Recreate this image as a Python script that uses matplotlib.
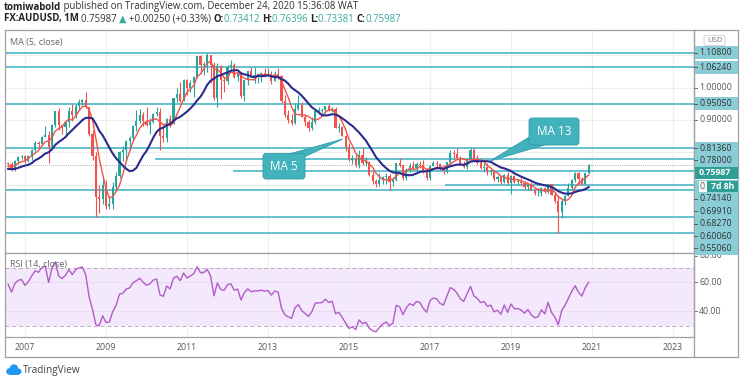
import matplotlib
matplotlib.use("Agg")
import matplotlib.pyplot as plt
import matplotlib.patches as mpatches
import numpy as np
import pandas as pd

plt.rcParams['font.family'] = ['Open Sans', 'DejaVu Sans']

# monthly closes before the first visible bar (Jan 2004 - Jul 2006), only used to seed MA / RSI
warmup_closes = [0.7680, 0.7840, 0.7640, 0.7190, 0.7060, 0.6950, 0.7030, 0.7140, 0.7230, 0.7470, 0.7840, 0.7810,
                 0.7720, 0.7880, 0.7720, 0.7790, 0.7590, 0.7620, 0.7610, 0.7560, 0.7630, 0.7440, 0.7390, 0.7330,
                 0.7560, 0.7420, 0.7160, 0.7600, 0.7560, 0.7420, 0.7660]

# visible bars, Aug 2006 - Dec 2020 (AUDUSD, 1M)
closes = [0.7650, 0.7455, 0.7740, 0.7860, 0.7885,
          0.7750, 0.7875, 0.8085, 0.8295, 0.8265, 0.8485, 0.8530, 0.8180, 0.8860, 0.9270, 0.8845, 0.8770,
          0.8950, 0.9290, 0.9140, 0.9445, 0.9560, 0.9620, 0.9395, 0.8580, 0.7900, 0.6640, 0.6550, 0.7010,
          0.6360, 0.6395, 0.6920, 0.7265, 0.8000, 0.8060, 0.8360, 0.8440, 0.8815, 0.8980, 0.9165, 0.8980,
          0.8835, 0.8930, 0.9170, 0.9240, 0.8510, 0.8435, 0.9040, 0.8895, 0.9665, 0.9800, 0.9600, 1.0225,
          0.9990, 1.0150, 1.0340, 1.0960, 1.0700, 1.0735, 1.0990, 1.0710, 0.9685, 1.0665, 1.0245, 1.0200,
          1.0630, 1.0705, 1.0335, 1.0415, 0.9730, 1.0230, 1.0505, 1.0330, 1.0385, 1.0385, 1.0435, 1.0385,
          1.0420, 1.0215, 1.0410, 1.0370, 0.9575, 0.9140, 0.8990, 0.8900, 0.9325, 0.9460, 0.9105, 0.8925,
          0.8745, 0.8925, 0.9275, 0.9285, 0.9300, 0.9430, 0.9290, 0.9335, 0.8745, 0.8795, 0.8510, 0.8160,
          0.7770, 0.7815, 0.7615, 0.7910, 0.7665, 0.7705, 0.7305, 0.7110, 0.7015, 0.7135, 0.7230, 0.7285,
          0.7075, 0.7135, 0.7660, 0.7605, 0.7225, 0.7455, 0.7595, 0.7515, 0.7650, 0.7610, 0.7385, 0.7215,
          0.7580, 0.7670, 0.7640, 0.7475, 0.7420, 0.7690, 0.7995, 0.7945, 0.7830, 0.7650, 0.7565, 0.7805,
          0.8060, 0.7765, 0.7680, 0.7530, 0.7565, 0.7400, 0.7430, 0.7190, 0.7230, 0.7085, 0.7310, 0.7045,
          0.7270, 0.7095, 0.7100, 0.7050, 0.6940, 0.7020, 0.6840, 0.6735, 0.6750, 0.6895, 0.6765, 0.7020,
          0.6690, 0.6510, 0.6150, 0.6515, 0.6670, 0.6900, 0.7145, 0.7375, 0.7165, 0.7030, 0.7355, 0.75987]

highs = [0.7700, 0.7690, 0.7760, 0.7890, 0.7930,
         0.7920, 0.7920, 0.8100, 0.8350, 0.8350, 0.8500, 0.8800, 0.8660, 0.8870, 0.9280, 0.9380, 0.8860,
         0.8960, 0.9390, 0.9500, 0.9500, 0.9650, 0.9660, 0.9850, 0.9410, 0.8680, 0.8000, 0.7010, 0.7180,
         0.7140, 0.6670, 0.7080, 0.7400, 0.8040, 0.8190, 0.8380, 0.8510, 0.8830, 0.9320, 0.9330, 0.9240,
         0.9410, 0.9070, 0.9210, 0.9390, 0.9380, 0.8870, 0.9070, 0.9160, 0.9680, 1.0000, 1.0180, 1.0260,
         1.0250, 1.0240, 1.0350, 1.0980, 1.1010, 1.0780, 1.1080, 1.1000, 1.0780, 1.0770, 1.0700, 1.0310,
         1.0710, 1.0860, 1.0760, 1.0470, 1.0480, 1.0240, 1.0520, 1.0620, 1.0630, 1.0450, 1.0480, 1.0590,
         1.0600, 1.0500, 1.0500, 1.0600, 1.0380, 0.9780, 0.9320, 0.9180, 0.9530, 0.9760, 0.9540, 0.9170,
         0.8990, 0.9080, 0.9280, 0.9390, 0.9360, 0.9440, 0.9500, 0.9410, 0.9400, 0.8910, 0.8800, 0.8540,
         0.8300, 0.7910, 0.7940, 0.8070, 0.8170, 0.7850, 0.7730, 0.7440, 0.7180, 0.7380, 0.7260, 0.7380,
         0.7320, 0.7240, 0.7680, 0.7840, 0.7610, 0.7510, 0.7680, 0.7740, 0.7700, 0.7730, 0.7780, 0.7530,
         0.7610, 0.7740, 0.7750, 0.7680, 0.7530, 0.7710, 0.8070, 0.8070, 0.8130, 0.7900, 0.7730, 0.7810,
         0.8140, 0.8130, 0.7920, 0.7810, 0.7680, 0.7680, 0.7480, 0.7450, 0.7310, 0.7240, 0.7320, 0.7390,
         0.7300, 0.7300, 0.7170, 0.7210, 0.7070, 0.7030, 0.7080, 0.6860, 0.6890, 0.6930, 0.6930, 0.7030,
         0.7030, 0.6770, 0.6690, 0.6570, 0.6680, 0.7060, 0.7190, 0.7410, 0.7410, 0.7240, 0.7370, 0.76396]

lows = [0.7560, 0.7440, 0.7440, 0.7640, 0.7790,
        0.7670, 0.7690, 0.7770, 0.8050, 0.8130, 0.8230, 0.8460, 0.7670, 0.8150, 0.8780, 0.8680, 0.8580,
        0.8500, 0.8780, 0.8970, 0.9050, 0.9300, 0.9450, 0.9360, 0.8520, 0.7770, 0.6010, 0.6130, 0.6420,
        0.6270, 0.6250, 0.6250, 0.6820, 0.7200, 0.7720, 0.7700, 0.8070, 0.8370, 0.8650, 0.8910, 0.8820,
        0.8820, 0.8580, 0.8900, 0.9120, 0.8070, 0.8320, 0.8320, 0.8770, 0.8880, 0.9540, 0.9540, 0.9590,
        0.9770, 0.9850, 0.9720, 1.0300, 1.0430, 1.0380, 1.0470, 1.0140, 0.9630, 0.9390, 0.9660, 0.9860,
        1.0110, 1.0540, 1.0290, 1.0210, 0.9690, 0.9580, 1.0090, 1.0320, 1.0150, 1.0150, 1.0160, 1.0340,
        1.0360, 1.0120, 1.0200, 1.0260, 0.9530, 0.9100, 0.8910, 0.8850, 0.8880, 0.9320, 0.9080, 0.8810,
        0.8660, 0.8700, 0.8890, 0.9190, 0.9200, 0.9200, 0.9280, 0.9240, 0.8740, 0.8640, 0.8500, 0.8030,
        0.7750, 0.7630, 0.7560, 0.7530, 0.7620, 0.7590, 0.7260, 0.7040, 0.6940, 0.6970, 0.7020, 0.7040,
        0.6830, 0.6970, 0.7110, 0.7540, 0.7150, 0.7150, 0.7410, 0.7480, 0.7440, 0.7520, 0.7380, 0.7160,
        0.7160, 0.7570, 0.7490, 0.7450, 0.7330, 0.7370, 0.7590, 0.7810, 0.7820, 0.7620, 0.7530, 0.7500,
        0.7770, 0.7760, 0.7640, 0.7500, 0.7410, 0.7310, 0.7310, 0.7110, 0.7080, 0.7020, 0.7050, 0.7020,
        0.6720, 0.7050, 0.7000, 0.7000, 0.6860, 0.6830, 0.6830, 0.6680, 0.6670, 0.6670, 0.6750, 0.6760,
        0.6680, 0.6430, 0.5510, 0.5980, 0.6370, 0.6650, 0.6840, 0.7080, 0.7010, 0.7000, 0.6990, 0.73381]

levels = [1.1080, 1.0624, 0.9505, 0.8136, 0.7800, 0.7414, 0.6991, 0.6827, 0.6006, 0.5506]
level_start = [None, None, None, None, 38.5, 61.6, 124.4, None, None, None]  # month index where short lines begin
years = ['2007', '2009', '2011', '2013', '2015', '2017', '2019', '2021', '2023']

W, H = 740, 383
GREEN, RED = '#26a69a', '#ef5350'
LEVEL_C = '#5bbccc'
LABEL_BG = '#8acdd7'

full = pd.Series(warmup_closes + closes)
n = len(closes)
opens = full.shift(1).values[-n:]
ma5 = full.rolling(5).mean().values[-n:]
ma13 = full.rolling(13).mean().values[-n:]
d = full.diff()
up = d.clip(lower=0).ewm(alpha=1 / 14, adjust=False).mean()
dn = (-d.clip(upper=0)).ewm(alpha=1 / 14, adjust=False).mean()
rsi = (100 - 100 / (1 + up / dn)).values[-n:]

c = np.array(closes)
hi = np.array(highs)
lo = np.array(lows)
x = np.arange(n) - 5  # 0 = Jan 2007


def fx(px):
    return px / W


def fy(py):
    return 1 - py / H


fig = plt.figure(figsize=(7.4, 3.83), dpi=100)
fig.patch.set_facecolor('white')

ax = fig.add_axes([fx(4.5), fy(253), fx(694) - fx(4.5), fy(30) - fy(253)])
ax_rsi = fig.add_axes([fx(4.5), fy(337), fx(694) - fx(4.5), fy(253) - fy(337)])

xmin, xmax = (4.5 - 25) / 3.375, (694 - 25) / 3.375
ax.set_xlim(xmin, xmax)
ax.set_ylim(0.4899, 1.1774)
ax_rsi.set_xlim(xmin, xmax)
ax_rsi.set_ylim(22.07, 80)

for a in (ax, ax_rsi):
    a.set_xticks(np.arange(len(years)) * 24)
    a.set_xticklabels([])
    a.tick_params(length=0)
    a.set_yticklabels([])
    a.grid(True, axis='x', color='#ededed', lw=0.8)
    for s in a.spines.values():
        s.set_color('#a0a0a0')
        s.set_linewidth(0.9)
    a.set_axisbelow(True)
ax.set_yticks(np.arange(0.6, 1.15, 0.1))
ax.grid(True, axis='y', color='#ededed', lw=0.8)
ax_rsi.set_yticks([40, 60])
ax_rsi.grid(True, axis='y', color='#e6ddee', lw=0.6)

# support / resistance lines
for lv, st in zip(levels, level_start):
    ax.hlines(lv, xmin if st is None else st, xmax, color=LEVEL_C, lw=1.3, zorder=1)
ax.axhline(c[-1], color='#9a9a9a', lw=0.6, ls=(0, (1, 1.5)), zorder=1)

# candles
col = np.where(c >= opens, GREEN, RED)
ax.vlines(x, lo, hi, colors=col, lw=0.8, zorder=3)
body_lo = np.minimum(opens, c)
body_h = np.maximum(np.abs(c - opens), 0.002)
ax.bar(x, body_h, bottom=body_lo, width=0.62, color=col, lw=0, zorder=4)

ax.plot(x, ma5, color='#f0534a', lw=1.0, zorder=5)
ax.plot(x, ma13, color='#2b2b8f', lw=1.5, zorder=6)

# RSI
ax_rsi.axhspan(30, 70, color='#f3e8fc', lw=0, zorder=0)
ax_rsi.axhline(70, color='#b9aebf', lw=0.7, ls=(0, (4, 3)))
ax_rsi.axhline(30, color='#b9aebf', lw=0.7, ls=(0, (4, 3)))
ax_rsi.plot(x, rsi, color='#b25cc7', lw=1.0, zorder=3)

# overlay in pixel coordinates
ov = fig.add_axes([0, 0, 1, 1], zorder=10)
ov.set_xlim(0, W)
ov.set_ylim(H, 0)
ov.axis('off')
ov.patch.set_alpha(0)

frame = dict(color='#a0a0a0', lw=0.9)
ov.plot([694, 738], [30, 30], **frame)
ov.plot([738, 738], [30, 357], **frame)
ov.plot([694, 694], [30, 357], **frame)
ov.plot([4.5, 738], [357, 357], **frame)
ov.plot([4.5, 4.5], [337, 357], **frame)


def ypix(a, v):
    return H - a.transData.transform((0, v))[1]


def xpix(a, v):
    return a.transData.transform((v, 0))[0]


fs = 6.3
# plain price ticks
for v, s in [(1.0, '1.00000'), (0.9, '0.90000')]:
    yp = ypix(ax, v)
    ov.plot([694, 697], [yp, yp], color='#777', lw=0.7)
    ov.text(699, yp, s, fontsize=fs, color='#555', va='center', ha='left')
for v, s in [(80, '80.00'), (60, '60.00'), (40, '40.00')]:
    yp = ypix(ax_rsi, v)
    if v == 80:
        yp += 3  # mostly tucked under the lowest level label
    ov.plot([694, 697], [yp, yp], color='#777', lw=0.7, zorder=1)
    ov.text(699, yp, s, fontsize=fs, color='#555', va='center', ha='left', zorder=1)

# boxed level labels, stacked like the price scale does
items = [(lv, '%.5f' % lv, 'level') for lv in levels]
items.append((c[-1], '%.5f' % c[-1], 'last'))
items.sort(key=lambda t: -t[0])
prev = -100
lh = 12.4
for v, s, kind in items:
    yp = max(ypix(ax, v), prev + lh)
    if kind == 'last':
        ov.add_patch(mpatches.Rectangle((695, yp - 6.2), 43, 12.4, color='#2f9f95', lw=0, zorder=3))
        ov.text(699, yp, s, fontsize=fs, color='white', weight='bold', va='center', zorder=4)
        yp2 = yp + 13.6
        ov.add_patch(mpatches.Rectangle((695, yp2 - 6.6), 44, 13.2, color=LABEL_BG, lw=0, zorder=2))
        ov.add_patch(mpatches.Rectangle((699, yp2 - 5.8), 9, 11.6, color='white', lw=0, zorder=3))
        ov.text(699.5, yp2, '0.', fontsize=fs, color='#555', va='center', zorder=4)
        ov.add_patch(mpatches.Rectangle((707, yp2 - 5.8), 31, 11.6, color='#2f9f95', lw=0, zorder=3))
        ov.text(722.5, yp2, '7d 8h', fontsize=fs, color='white', weight='bold', va='center', ha='center', zorder=4)
        prev = yp2
        continue
    ov.add_patch(mpatches.Rectangle((695, yp - 6.2), 43, 12.4, color=LABEL_BG, lw=0, zorder=2))
    ov.plot([694, 697], [yp, yp], color='#555', lw=0.7, zorder=3)
    ov.text(699, yp, s, fontsize=fs, color='#333', va='center', zorder=4)
    prev = yp

ov.add_patch(mpatches.FancyBboxPatch((704, 35.5), 21, 10, boxstyle='round,pad=0,rounding_size=2',
                                     fc='white', ec='#cfcfcf', lw=0.6))
ov.text(714.5, 40.7, 'USD', fontsize=5.5, color='#777', ha='center', va='center')

# time axis
for i, yr in enumerate(years):
    xp = xpix(ax, i * 24)
    ov.text(xp, 348, yr, fontsize=fs, color='#555', ha='center', va='center')

ov.text(10, 42, 'MA (5, close)', fontsize=6.5, color='#666', va='center')
ov.text(10, 265, 'RSI (14, close)', fontsize=6.5, color='#666', va='center')

# callouts
box_c, edge_c = '#42b2bd', '#2f9eaa'
ov.add_patch(mpatches.Polygon([(289, 154), (304, 157), (343, 139)], closed=True, fc=box_c, ec=edge_c, lw=0.6, zorder=5))
ov.add_patch(mpatches.FancyBboxPatch((263, 153.5), 42, 25.5, boxstyle='round,pad=0,rounding_size=3',
                                     fc=box_c, ec=edge_c, lw=0.6, zorder=6))
ov.text(284, 166.5, 'MA 5', fontsize=8.5, color='white', ha='center', va='center', zorder=7)
ov.add_patch(mpatches.Polygon([(531, 136), (546, 144.5), (490, 161)], closed=True, fc=box_c, ec=edge_c, lw=0.6, zorder=5))
ov.add_patch(mpatches.FancyBboxPatch((529, 118), 50, 27, boxstyle='round,pad=0,rounding_size=3',
                                     fc=box_c, ec=edge_c, lw=0.6, zorder=6))
ov.text(554, 131.5, 'MA 13', fontsize=8.5, color='white', ha='center', va='center', zorder=7)

# header
renderer = fig.canvas.get_renderer()


def seq(xs, y, parts):
    for s, color, weight in parts:
        t = fig.text(fx(xs), fy(y), s, fontsize=6.9, color=color, weight=weight, va='center', ha='left')
        xs += t.get_window_extent(renderer).width


seq(4, 7, [('tomiwabold', '#222', 'bold'),
           (' published on TradingView.com, December 24, 2020 15:36:08 WAT', '#333', 'normal')])
tg = '#3aa99f'
seq(4, 19, [('FX:AUDUSD, 1M ', '#222', 'bold'), ('0.75987 ', '#333', 'normal'), ('▲ ', tg, 'normal'),
            ('+0.00250 (+0.33%) ', '#333', 'normal'),
            ('O:', '#222', 'bold'), ('0.73412 ', tg, 'normal'), ('H:', '#222', 'bold'), ('0.76396 ', tg, 'normal'),
            ('L:', '#222', 'bold'), ('0.73381 ', tg, 'normal'), ('C:', '#222', 'bold'), ('0.75987', tg, 'normal')])

# TradingView logo
logo = '#2196f3'
for cx, cy, r in [(9.5, 371.5, 3.3), (14, 368.5, 4.2), (18.5, 371.5, 3.0)]:
    ov.add_patch(mpatches.Circle((cx, cy), r, color=logo, lw=0))
ov.add_patch(mpatches.Rectangle((9.5, 371), 9, 3.8, color=logo, lw=0))
ov.text(23, 370.5, 'TradingView', fontsize=7.2, color='#444', va='center')

fig.savefig('out.png', dpi=100)
